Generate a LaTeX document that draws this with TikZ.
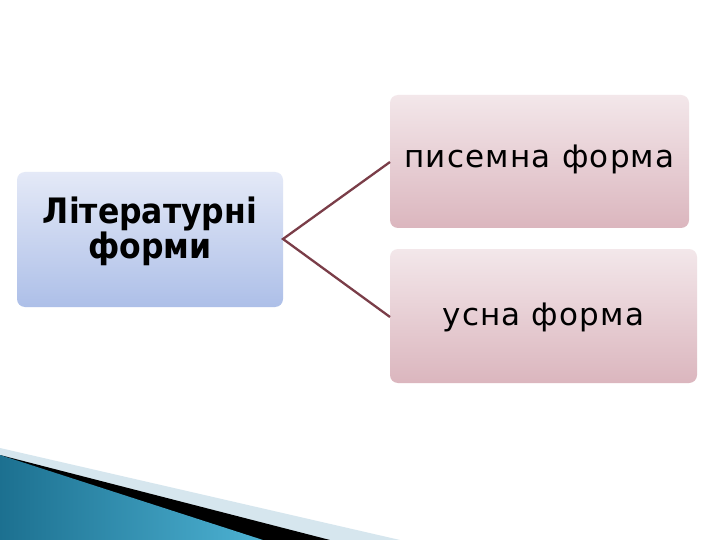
\documentclass[tikz,border=0pt]{standalone}
\usepackage{fontspec}
\setmainfont{DejaVu Sans}
\newfontfamily\boldcond{DejaVu Sans Condensed}[BoldFont={DejaVu Sans Condensed Bold}]
\newfontfamily\widesans{DejaVu Sans}[LetterSpace=4]
\usetikzlibrary{shadings}
\definecolor{lbtop}{HTML}{E4E9F7}
\definecolor{lbbot}{HTML}{ADBFE8}
\definecolor{rbtop}{HTML}{F3E7EA}
\definecolor{rbbot}{HTML}{DBB6BE}
\definecolor{conn}{HTML}{7A3D48}
\definecolor{bluedk}{HTML}{1C7090}
\definecolor{bluelt}{HTML}{4DB2D3}
\definecolor{paleband}{HTML}{D6E6EE}
\tikzset{
  leftbox/.style={rounded corners=8pt, top color=lbtop, bottom color=lbbot, draw=none},
  rightbox/.style={rounded corners=8pt, top color=rbtop, bottom color=rbbot, draw=none},
  connector/.style={draw=conn, line width=2.3pt},
  lefttext/.style={font=\boldcond\bfseries\fontsize{35}{30}\selectfont, align=center, inner sep=0pt},
  righttext/.style={font=\widesans\fontsize{31}{36}\selectfont, inner sep=0pt, anchor=base}
}
\begin{document}
\begin{tikzpicture}[x=1pt,y=-1pt]
\useasboundingbox (0,0) rectangle (720,540);
\fill[white] (0,0) rectangle (720,540);
% decoration bottom-left
\fill[paleband] (0,448) -- (400,540) -- (0,540) -- cycle;
\fill[black] (0,455) -- (330,540) -- (0,540) -- cycle;
\shade[left color=bluedk, right color=bluelt] (0,455) -- (263,540) -- (0,540) -- cycle;
% boxes
\path[leftbox] (17,172) rectangle (283,307);
\path[rightbox] (390,95) rectangle (689,228);
\path[rightbox] (390,249) rectangle (697,383);
\coordinate (lb) at (283,239);
\coordinate (rt) at (390,162);
\coordinate (rb) at (390,317);
\node[lefttext] (lit) at (150,231) {Літературні\\форми};
\node[righttext] (pys) at (539.5,168) {писемна форма};
\node[righttext] (usn) at (543.5,325) {усна форма};
\draw[connector] (rt) -- (lb) -- (rb);
\end{tikzpicture}
\end{document}
